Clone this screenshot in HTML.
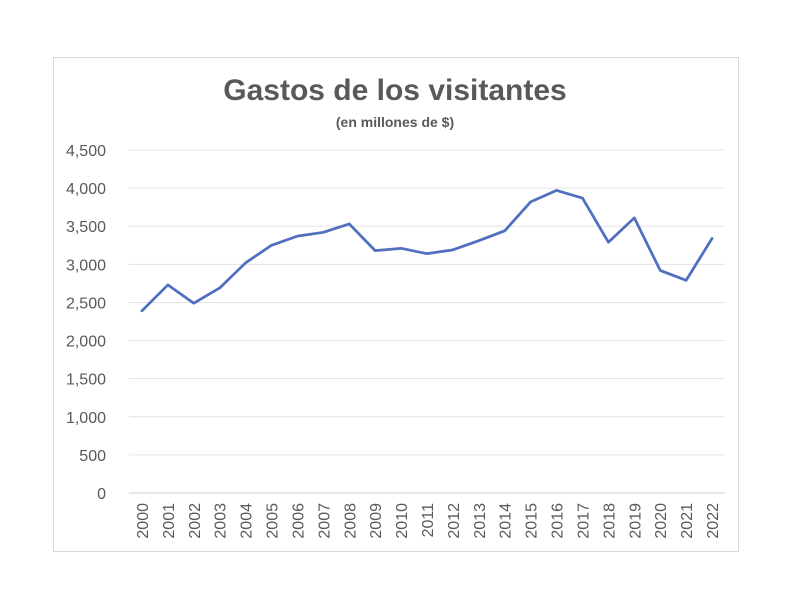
<!DOCTYPE html>
<html><head><meta charset="utf-8"><style>
body{margin:0;background:#fff;}
svg{display:block;font-family:"Liberation Sans",sans-serif;}
</style></head><body>
<svg id="chart" width="792" height="612">
<rect x="53.5" y="57.5" width="685" height="494" fill="#fff" stroke="#d9d9d9"/>
<text x="395" y="100" text-anchor="middle" font-size="30" font-weight="bold" fill="#595959">Gastos de los visitantes</text>
<text x="395" y="127" text-anchor="middle" font-size="14" font-weight="bold" fill="#595959">(en millones de $)</text>
<g id="grid"></g><g id="ylab"></g><g id="xlab"></g><g id="series"></g>
</svg>
<script>
const years=["2000","2001","2002","2003","2004","2005","2006","2007","2008","2009","2010","2011","2012","2013","2014","2015","2016","2017","2018","2019","2020","2021","2022"];
const values=[2390,2730,2490,2690,3020,3250,3370,3420,3530,3180,3210,3140,3190,3310,3440,3820,3970,3870,3290,3610,2920,2790,3340];
const yTicks=[0,500,1000,1500,2000,2500,3000,3500,4000,4500];
const yTickLabels=["0","500","1,000","1,500","2,000","2,500","3,000","3,500","4,000","4,500"];
const NS="http://www.w3.org/2000/svg";
const x0=129,x1=725,y0=493,y1=150,yMax=4500;
const step=(x1-x0)/years.length;
const X=i=>x0+step*(i+0.5);
const Y=v=>y0-(v/yMax)*(y0-y1);
function mk(t,a,p){const e=document.createElementNS(NS,t);for(const k in a)e.setAttribute(k,a[k]);p.appendChild(e);return e;}
const grid=document.getElementById('grid'),yl=document.getElementById('ylab'),xl=document.getElementById('xlab'),ser=document.getElementById('series');
yTicks.forEach((v,i)=>{
 const l=mk('line',{x1:x0,x2:x1,y1:Y(v),y2:Y(v),stroke:i===0?'#d0d0d0':'#e3e3e3','stroke-width':1},grid);
 
 
 const t=mk('text',{x:106,y:Y(v)+6,'text-anchor':'end','font-size':16,fill:'#595959'},yl);
 t.textContent=yTickLabels[i];
 
 
});
years.forEach((yr,i)=>{
 const t=mk('text',{x:0,y:0,'text-anchor':'end','font-size':16,fill:'#595959',transform:`translate(${X(i)+6},503) rotate(-90)`},xl);
 t.textContent=yr;
 
 
});
const p=mk('polyline',{points:values.map((v,i)=>X(i)+','+Y(v)).join(' '),fill:'none',stroke:'#4f6fbf','stroke-width':2.75,'stroke-linejoin':'round','stroke-linecap':'round'},ser);


</script>
</body></html>
